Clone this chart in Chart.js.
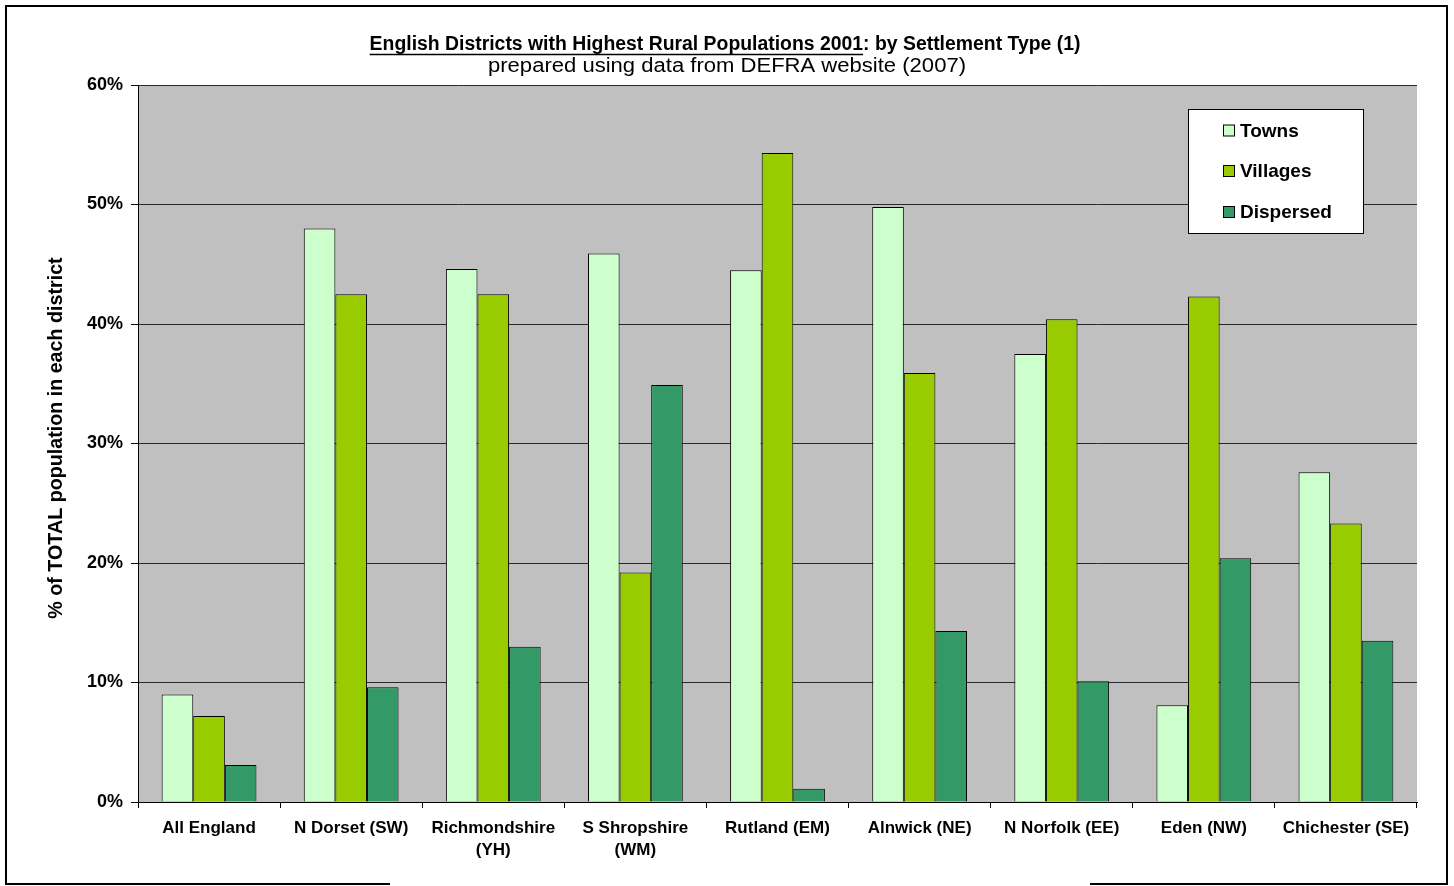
<!DOCTYPE html>
<html>
<head>
<meta charset="utf-8">
<script src="https://cdn.jsdelivr.net/npm/chart.js@4"></script>
<style>
    body { margin: 0; background: #fff; }
    #chart { width: 1454px; height: 886px; }
</style>
</head>
<body>
<div id="chart"><canvas id="ctx" width="1454" height="886"></canvas></div>
<script>
// Districts and the share of their population in each settlement type (%)
const districts = ['All England', 'N Dorset (SW)', ['Richmondshire', '(YH)'], ['S Shropshire', '(WM)'],
    'Rutland (EM)', 'Alnwick (NE)', 'N Norfolk (EE)', 'Eden (NW)', 'Chichester (SE)'];
const towns = [9.0, 48.0, 44.6, 45.9, 44.5, 49.8, 37.5, 8.1, 27.6];
const villages = [7.2, 42.5, 42.5, 19.2, 54.3, 35.9, 40.4, 42.3, 23.3];
const dispersed = [3.1, 9.6, 13.0, 34.9, 1.1, 14.3, 10.1, 20.4, 13.5];
const yMax = 60;
const yStep = 10;

const titleMain = 'English Districts with Highest Rural Populations 2001';
const titleRest = ': by Settlement Type (1)';
const subTitle = 'prepared using data from DEFRA website (2007)';
const yTitle = '% of TOTAL population in each district';

const FONT = '"Liberation Sans", Arial, sans-serif';

// grey plot area, titles, legend box and the outer frame
const decorations = {
    id: 'decorations',
    beforeDraw(chart) {
        const c = chart.ctx, a = chart.chartArea;
        c.save();
        c.fillStyle = '#c0c0c0';
        c.fillRect(a.left, a.top, a.right - a.left, a.bottom - a.top);
        c.restore();
    },
    afterDraw(chart) {
        const c = chart.ctx;
        c.save();
        c.fillStyle = '#000';
        c.strokeStyle = '#000';

        // title, first part underlined
        c.font = 'bold 19.4px ' + FONT;
        c.textBaseline = 'middle';
        c.textAlign = 'left';
        const w1 = c.measureText(titleMain).width;
        const w2 = c.measureText(titleRest).width;
        let x = 725 - (w1 + w2) / 2;
        c.fillText(titleMain, x, 45);
        c.fillText(titleRest, x + w1, 45);
        c.lineWidth = 1.5;
        c.beginPath();
        c.moveTo(x, 54.5);
        c.lineTo(x + w1, 54.5);
        c.stroke();

        // subtitle, set a little wide
        c.font = '19.5px ' + FONT;
        const ws = c.measureText(subTitle).width;
        c.save();
        c.translate(727, 67);
        c.scale(478 / ws, 1);
        c.textAlign = 'center';
        c.fillText(subTitle, 0, 0);
        c.restore();

        // y axis title
        c.save();
        c.translate(57, 438);
        c.rotate(-Math.PI / 2);
        c.font = 'bold 19.7px ' + FONT;
        c.textAlign = 'center';
        c.fillText(yTitle, 0, 0);
        c.restore();

        // legend
        c.fillStyle = '#fff';
        c.fillRect(1188.5, 109.5, 175, 124);
        c.lineWidth = 1;
        c.strokeRect(1188.5, 109.5, 175, 124);
        const rows = [130.5, 171, 212];
        c.font = 'bold 19px ' + FONT;
        c.textAlign = 'left';
        chart.data.datasets.forEach(function(ds, i) {
            c.fillStyle = ds.backgroundColor;
            c.fillRect(1223.5, rows[i] - 5.5, 11, 11);
            c.strokeRect(1223.5, rows[i] - 5.5, 11, 11);
            c.fillStyle = '#000';
            c.fillText(ds.label, 1240, rows[i] + 1);
        });

        // outer frame (bottom edge has a gap)
        c.lineWidth = 2;
        c.beginPath();
        c.moveTo(390, 884);
        c.lineTo(6, 884);
        c.lineTo(6, 6);
        c.lineTo(1447, 6);
        c.lineTo(1447, 884);
        c.lineTo(1090, 884);
        c.stroke();
        c.restore();
    }
};

const ctx = document.getElementById('ctx');
new Chart(ctx, {
    type: 'bar',
    data: {
        labels: districts,
        datasets: [
            { label: 'Towns', data: towns, backgroundColor: '#ccffcc' },
            { label: 'Villages', data: villages, backgroundColor: '#99cc00' },
            { label: 'Dispersed', data: dispersed, backgroundColor: '#339966' }
        ]
    },
    options: {
        responsive: false,
        animation: false,
        devicePixelRatio: 1,
        layout: { padding: { left: 0, right: 37, top: 85, bottom: 0 } },
        datasets: {
            bar: {
                categoryPercentage: 0.667,
                barPercentage: 1.0,
                borderColor: '#000',
                borderWidth: 1
            }
        },
        plugins: {
            legend: { display: false },
            tooltip: { enabled: false }
        },
        scales: {
            x: {
                afterFit: function(s) { s.height = 84; },
                grid: {
                    offset: true,
                    drawOnChartArea: false,
                    tickLength: 6,
                    color: '#000'
                },
                border: { color: '#000', width: 1 },
                ticks: {
                    color: '#000',
                    padding: 9,
                    maxRotation: 0,
                    autoSkip: false,
                    font: { family: FONT, size: 17, weight: 'bold', lineHeight: 1.3 }
                }
            },
            y: {
                min: 0,
                max: yMax,
                afterFit: function(s) { s.width = 138; },
                grid: {
                    color: '#2a2a2a',
                    tickColor: '#000',
                    tickLength: 7
                },
                border: { color: '#000', width: 1 },
                ticks: {
                    stepSize: yStep,
                    color: '#000',
                    padding: 8,
                    font: { family: FONT, size: 18, weight: 'bold' },
                    callback: function(v) { return v + '%'; }
                }
            }
        }
    },
    plugins: [decorations]
});
</script>
</body>
</html>
